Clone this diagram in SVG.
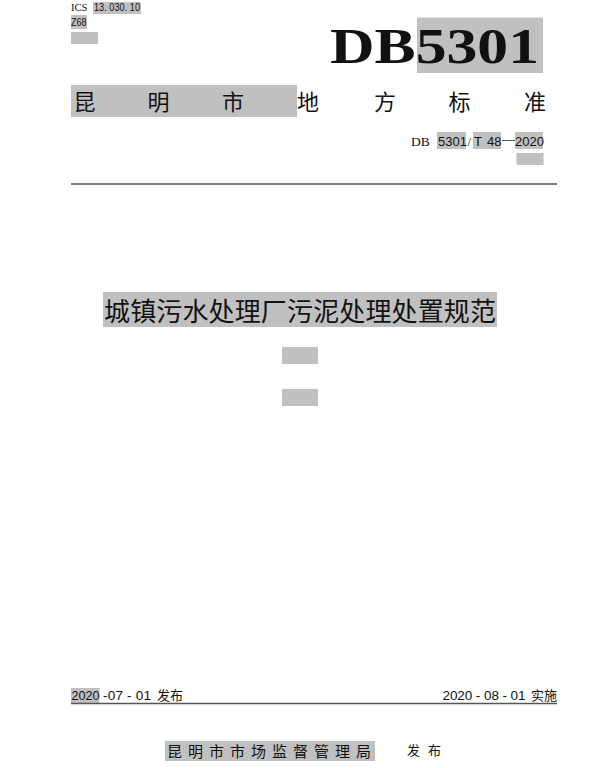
<svg xmlns="http://www.w3.org/2000/svg" width="600" height="768" viewBox="0 0 600 768">
<style>
.g{fill:#c0c0c0}
.s{font-family:"Liberation Serif",serif;fill:#111}
.a{font-family:"Liberation Sans",sans-serif;fill:#111}
.c{font-family:"Noto Sans CJK SC",sans-serif;fill:#111}
.r{stroke:#555;stroke-width:1.3}
</style>
<rect width="600" height="768" fill="#fff"/>
<g id="highlights">
<rect class="g" x="93" y="2" width="48" height="12"/>
<rect class="g" x="71" y="15" width="16" height="14"/>
<rect class="g" x="71" y="32" width="27" height="12"/>
<rect class="g" x="417" y="17.500" width="126" height="55.500"/>
<rect class="g" x="71" y="85" width="226" height="32"/>
<rect class="g" x="437" y="132" width="29" height="17"/>
<rect class="g" x="473" y="132" width="28" height="17"/>
<rect class="g" x="515" y="132" width="28" height="17"/>
<rect class="g" x="516.500" y="153" width="27" height="12"/>
<rect class="g" x="103" y="292" width="394" height="35"/>
<rect class="g" x="282" y="347" width="36" height="17"/>
<rect class="g" x="282" y="389" width="36" height="17"/>
<rect class="g" x="71" y="688" width="28.500" height="15"/>
<rect class="g" x="165" y="741" width="210" height="20"/>
</g>
<g id="header-codes">
<text class="s" x="71" y="11" font-size="10.500">ICS</text>
<text class="a" x="94" y="11" font-size="10.500" textLength="46" lengthAdjust="spacingAndGlyphs">13. 030. 10</text>
<text class="a" x="71" y="26" font-size="10.500" textLength="15.500" lengthAdjust="spacingAndGlyphs">Z68</text>
</g>
<text id="db-code" class="s" x="330" y="63" font-size="50" font-weight="bold" fill="#000" textLength="209" lengthAdjust="spacingAndGlyphs">DB5301</text>
<g id="authority" class="c" font-size="22" text-anchor="middle">
<text x="84.500" y="109.500">昆</text>
<text x="158.500" y="109.500">明</text>
<text x="233" y="109.500">市</text>
<text x="308" y="109.500">地</text>
<text x="385" y="109.500">方</text>
<text x="459.500" y="109.500">标</text>
<text x="535" y="109.500">准</text>
</g>
<g id="standard-number" font-size="13">
<text class="s" x="411" y="146" font-size="13.500">DB</text>
<text class="a" x="438" y="146">5301</text>
<text class="s" x="467.500" y="146">/</text>
<text class="a" x="474" y="146">T</text>
<text class="a" x="487" y="146">48</text>
<line x1="502" y1="140.500" x2="515" y2="140.500" stroke="#555"/>
<text class="a" x="515" y="146">2020</text>
</g>
<line id="top-rule" class="r" x1="71" y1="184" x2="557" y2="184"/>
<text id="title" class="c" x="104" y="321" font-size="26" textLength="392">城镇污水处理厂污泥处理处置规范</text>
<g id="dates" font-size="13.500">
<text class="a" x="71.500" y="700" textLength="28" lengthAdjust="spacingAndGlyphs">2020</text>
<text class="a" x="103" y="700" textLength="48">-07 - 01</text>
<text class="c" x="157" y="700" font-size="13">发布</text>
<text class="a" x="442.500" y="700" textLength="83">2020 - 08 - 01</text>
<text class="c" x="531" y="700" font-size="13">实施</text>
</g>
<line id="bottom-rule" class="r" x1="71" y1="703.500" x2="557" y2="703.500"/>
<g id="publisher">
<text class="c" x="167" y="757" font-size="15" letter-spacing="6">昆明市市场监督管理局</text>
<text class="c" x="407" y="755" font-size="13" letter-spacing="8">发布</text>
</g>
</svg>
